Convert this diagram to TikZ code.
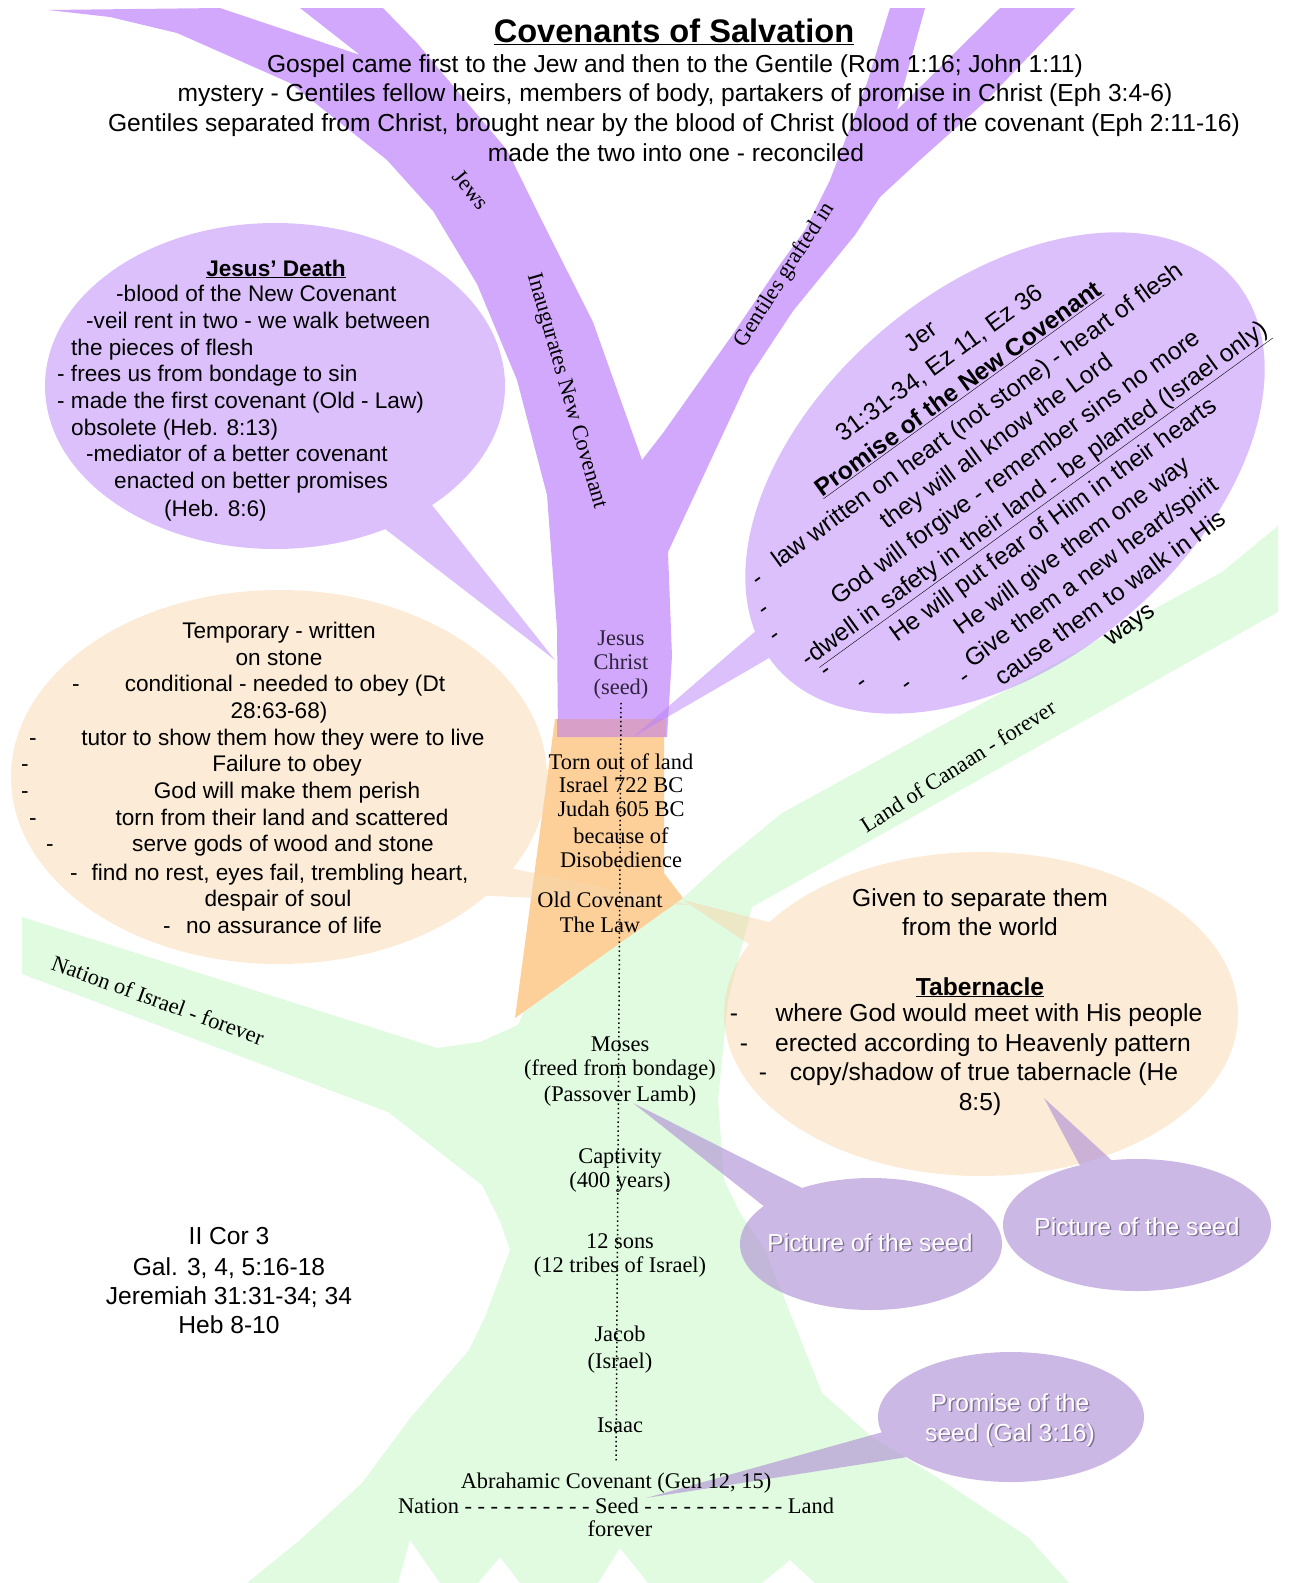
\documentclass[tikz,border=0pt]{standalone}
\usepackage{fontspec}
\setmainfont{Liberation Serif}
\setsansfont{Liberation Sans}
\definecolor{ptree}{RGB}{210,168,252}
\definecolor{otree}{RGB}{253,207,153}
\definecolor{gtree}{RGB}{224,251,224}
\definecolor{pbub}{RGB}{186,130,250}
\definecolor{obub}{RGB}{249,215,173}
\definecolor{sbub}{RGB}{180,150,215}
\definecolor{pinkov}{RGB}{216,160,200}
\definecolor{shadowc}{RGB}{70,55,90}
\definecolor{jcol}{RGB}{45,35,60}
\tikzset{
  sa/.style={font=\fontsize{22.6}{26.7}\selectfont\sffamily, inner sep=0pt, anchor=base},
  saw/.style={sa, anchor=base west},
  sb/.style={font=\fontsize{24.6}{29}\selectfont\sffamily, inner sep=0pt, anchor=base},
  se/.style={font=\fontsize{22.4}{24}\selectfont\rmfamily, inner sep=0pt, anchor=base},
  lab/.style={font=\fontsize{22.4}{24}\selectfont\rmfamily, inner sep=0pt, anchor=center},
  rdash/.style={font=\fontsize{24.6}{29}\selectfont\sffamily, inner sep=0pt, anchor=center, rotate=36},
  wt/.style={sb, text=white},
  wsh/.style={sb, text=shadowc, opacity=.55},
}
\begin{document}
\begin{tikzpicture}[x=1pt,y=-1pt]
\useasboundingbox (0,0) rectangle (1289,1583);
% ---------- green tree ----------
\fill[gtree] (22,917) -- (437,1048) -- (480,1042) -- (518,1025) -- (560,930) -- (620,900)
  -- (683,898) -- (721,863) -- (782,813) -- (1222,572) -- (1278,526) -- (1278,612)
  -- (752,907) -- (728,1000) -- (718,1100) -- (724,1180) -- (740,1213) -- (765,1250)
  -- (822,1393) -- (872,1437) -- (946,1483) -- (1028,1537) -- (1069,1583)
  -- (815,1583) -- (790,1560) -- (762,1583) -- (648,1583) -- (620,1548) -- (598,1583)
  -- (520,1583) -- (500,1557) -- (478,1583) -- (440,1583) -- (410,1540) -- (398,1583)
  -- (247,1583) -- (300,1540) -- (362,1483) -- (411,1417) -- (469,1350) -- (485,1317)
  -- (510,1250) -- (500,1221) -- (482,1185) -- (388,1112) -- (22,974) -- cycle;
% ---------- orange trunk ----------
\fill[otree] (555,719) -- (664,719) -- (664,873) -- (683,898) -- (515,1018) -- cycle;
% ---------- purple tree ----------
\fill[ptree] (48,10) -- (110,17) -- (177,33) -- (290,83) -- (387,160) -- (423,200)
  -- (433,211) -- (477,284) -- (517,380) -- (547,495) -- (557,629) -- (558,737)
  -- (667,737) -- (672,656) -- (668,552) -- (750,376) -- (793,311) -- (855,235)
  -- (880,197) -- (920,160) -- (987,100) -- (1075,8) -- (1000,8) -- (897,110)
  -- (925,8) -- (890,8) -- (867,83) -- (830,180) -- (805,230) -- (781,263)
  -- (733,334) -- (663,433) -- (642,460) -- (593,322) -- (543,223) -- (507,150)
  -- (417,43) -- (383,8) -- (300,8) -- (360,55) -- (220,8) -- cycle;
\fill[pinkov] (557,719) rectangle (666,737);
% ---------- orange bubbles ----------
\begin{scope}[transparency group, opacity=.5]
  \fill[obub] (279,777) ellipse [x radius=268, y radius=187];
  \fill[obub] (480,862) -- (690,905) -- (470,895) -- cycle;
\end{scope}
\begin{scope}[transparency group, opacity=.5]
  \fill[obub] (981,1014) ellipse [x radius=257, y radius=162];
  \fill[obub] (800,930) -- (683,900) -- (780,965) -- cycle;
\end{scope}
% ---------- purple bubbles ----------
\begin{scope}[transparency group, opacity=.5]
  \fill[pbub] (275,386) ellipse [x radius=230, y radius=163];
  \fill[pbub] (420,490) -- (555,660) -- (380,525) -- cycle;
\end{scope}
\begin{scope}[transparency group, opacity=.5]
  \fill[pbub, rotate around={40:(1005,473)}] (1005,473) ellipse [x radius=300, y radius=188];
  \fill[pbub] (780,610) -- (633,737) -- (800,640) -- cycle;
\end{scope}
% ---------- seed bubbles ----------
\begin{scope}[transparency group, opacity=.68]
  \fill[sbub] (871,1244) ellipse [x radius=131, y radius=66];
  \fill[sbub] (806,1190) -- (633,1103) -- (775,1215) -- cycle;
\end{scope}
\begin{scope}[transparency group, opacity=.68]
  \fill[sbub] (1137,1225) ellipse [x radius=134, y radius=66];
  \fill[sbub] (1085,1175) -- (1044,1098) -- (1120,1168) -- cycle;
\end{scope}
\begin{scope}[transparency group, opacity=.68]
  \fill[sbub] (1011,1417) ellipse [x radius=133, y radius=65];
  \fill[sbub] (890,1430) -- (646,1498) -- (920,1455) -- cycle;
\end{scope}
% ---------- title ----------
\node[font=\fontsize{32.6}{36}\selectfont\sffamily\bfseries, inner sep=0pt, anchor=base] (title) at (674,42) {\underline{Covenants of Salvation}};
\node[sb] (h1) at (675,72) {Gospel came first to the Jew and then to the Gentile (Rom 1:16; John 1:11)};
\node[sb] (h2) at (675,101) {mystery - Gentiles fellow heirs, members of body, partakers of promise in Christ (Eph 3:4-6)};
\node[sb] (h3) at (674,131) {Gentiles separated from Christ, brought near by the blood of Christ (blood of the covenant (Eph 2:11-16)};
\node[sb] (h4) at (676,161) {made the two into one - reconciled};
% ---------- branch labels ----------
\node[lab, rotate=-50] (jews) at (471,190) {Jews};
\node[lab, rotate=-74] (inaug) at (566,391) {Inaugurates New Covenant};
\node[lab, rotate=57.5] (gent) at (785,275) {Gentiles grafted in};
\node[lab, rotate=-20] (nation) at (158,1000) {Nation of Israel - forever};
\node[lab, rotate=32.5] (canaan) at (958,766) {Land of Canaan - forever};
% ---------- Jesus' death bubble ----------
\node[sa, font=\fontsize{22.6}{26.7}\selectfont\sffamily\bfseries] (jd0) at (276,276) {\underline{Jesus’ Death}};
\node[saw] (jd1) at (116,301) {-blood of the New Covenant};
\node[saw] (jd2) at (86,328) {-veil rent in two - we walk between};
\node[saw] (jd3) at (71,355) {the pieces of flesh};
\node[saw] (jd4) at (57,381) {- frees us from bondage to sin};
\node[saw] (jd5) at (57,408) {- made the first covenant (Old - Law)};
\node[saw] (jd6) at (71,435) {obsolete (Heb. 8:13)};
\node[saw] (jd7) at (86,461) {-mediator of a better covenant};
\node[saw] (jd8) at (114,488) {enacted on better promises};
\node[saw] (jd9) at (164,516) {(Heb. 8:6)};
% ---------- promise of new covenant bubble ----------
\node[font=\fontsize{24.6}{32.3}\selectfont\sffamily, align=center, rotate=36, inner sep=0pt] (promise) at (1026,482)
 {Jer\\31:31-34, Ez 11, Ez 36\\\textbf{\underline{Promise of the New Covenant}}\\law written on heart (not stone) - heart of flesh\\they will all know the Lord\\God will forgive - remember sins no more\\-\underline{dwell in safety in their land - be planted (Israel only)}\\He will put fear of Him in their hearts\\He will give them one way\\Give them a new heart/spirit\\cause them to walk in His\\ways};
\node[rdash] (rd1) at (760,582) {-};
\node[rdash] (rd2) at (766,612) {-};
\node[rdash] (rd3) at (777,638) {-};
\node[rdash] (rd4) at (828,673) {-};
\node[rdash] (rd5) at (864,685) {-};
\node[rdash] (rd6) at (909,687) {-};
\node[rdash] (rd7) at (967,680) {-};
% ---------- old covenant bubble ----------
\node[sa] (oc1) at (279,638) {Temporary - written};
\node[sa] (oc2) at (279,665) {on stone};
\node[sa] (oc3d) at (76,691) {-};
\node[sa] (oc3) at (285,691) {conditional - needed to obey (Dt};
\node[sa] (oc4) at (279,718) {28:63-68)};
\node[sa] (oc5d) at (33,745) {-};
\node[sa] (oc5) at (283,745) {tutor to show them how they were to live};
\node[sa] (oc6d) at (25,771) {-};
\node[sa] (oc6) at (287,771) {Failure to obey};
\node[sa] (oc7d) at (25,798) {-};
\node[sa] (oc7) at (287,798) {God will make them perish};
\node[sa] (oc8d) at (33,825) {-};
\node[sa] (oc8) at (282,825) {torn from their land and scattered};
\node[sa] (oc9d) at (50,851) {-};
\node[sa] (oc9) at (283,851) {serve gods of wood and stone};
\node[sa] (oc10d) at (74,880) {-};
\node[sa] (oc10) at (280,880) {find no rest, eyes fail, trembling heart,};
\node[sa] (oc11) at (278,906) {despair of soul};
\node[sa] (oc12d) at (167,933) {-};
\node[sa] (oc12) at (284,933) {no assurance of life};
% ---------- tabernacle bubble ----------
\node[sb] (tb1) at (980,906) {Given to separate them};
\node[sb] (tb2) at (980,935) {from the world};
\node[sb, font=\fontsize{24.6}{29}\selectfont\sffamily\bfseries] (tb3) at (980,995) {\underline{Tabernacle}};
\node[sb] (tb4d) at (734,1021) {-};
\node[sb] (tb4) at (989,1021) {where God would meet with His people};
\node[sb] (tb5d) at (744,1051) {-};
\node[sb] (tb5) at (983,1051) {erected according to Heavenly pattern};
\node[sb] (tb6d) at (763,1080) {-};
\node[sb] (tb6) at (984,1080) {copy/shadow of true tabernacle (He};
\node[sb] (tb7) at (980,1110) {8:5)};
% ---------- references ----------
\node[sb] (rf1) at (229,1244) {II Cor 3};
\node[sb] (rf2) at (229,1275) {Gal. 3, 4, 5:16-18};
\node[sb] (rf3) at (229,1304) {Jeremiah 31:31-34; 34};
\node[sb] (rf4) at (229,1333) {Heb 8-10};
% ---------- trunk texts ----------
\node[se, text=jcol] (jc1) at (621,645) {Jesus};
\node[se, text=jcol] (jc2) at (621,669) {Christ};
\node[se, text=jcol] (seed) at (621,694) {(seed)};
\node[se] (to1) at (621,769) {Torn out of land};
\node[se] (to2) at (621,792) {Israel 722 BC};
\node[se] (to3) at (621,816) {Judah 605 BC};
\node[se] (to4) at (621,843) {because of};
\node[se] (to5) at (621,867) {Disobedience};
\node[se] (ol1) at (600,907) {Old Covenant};
\node[se] (ol2) at (600,932) {The Law};
\node[se] (mo1) at (620,1051) {Moses};
\node[se] (mo2) at (620,1075) {(freed from bondage)};
\node[se] (mo3) at (620,1101) {(Passover Lamb)};
\node[se] (ca1) at (620,1163) {Captivity};
\node[se] (ca2) at (620,1187) {(400 years)};
\node[se] (so1) at (620,1248) {12 sons};
\node[se] (so2) at (620,1272) {(12 tribes of Israel)};
\node[se] (ja1) at (620,1341) {Jacob};
\node[se] (ja2) at (620,1368) {(Israel)};
\node[se] (isaac) at (620,1432) {Isaac};
\node[se] (abr) at (616,1488) {Abrahamic Covenant (Gen 12, 15)};
\node[se] (nsl) at (616,1513) {Nation - - - - - - - - - - Seed - - - - - - - - - - - Land};
\node[se] (fev) at (620,1536) {forever};
\draw[line width=1.5pt, dash pattern=on 1.5pt off 3pt] ([yshift=-4pt]seed.south) -- ([yshift=10pt]abr.north);
% ---------- seed bubble texts ----------
\node[wsh] (ps1s) at (871.5,1252.5) {Picture of the seed};
\node[wt] (ps1) at (870,1251) {Picture of the seed};
\node[wsh] (ps2s) at (1138.5,1236.5) {Picture of the seed};
\node[wt] (ps2) at (1137,1235) {Picture of the seed};
\node[wsh] (pr1s) at (1011.5,1412.5) {Promise of the};
\node[wt] (pr1) at (1010,1411) {Promise of the};
\node[wsh] (pr2s) at (1011.5,1442.5) {seed (Gal 3:16)};
\node[wt] (pr2) at (1010,1441) {seed (Gal 3:16)};
\end{tikzpicture}
\end{document}
